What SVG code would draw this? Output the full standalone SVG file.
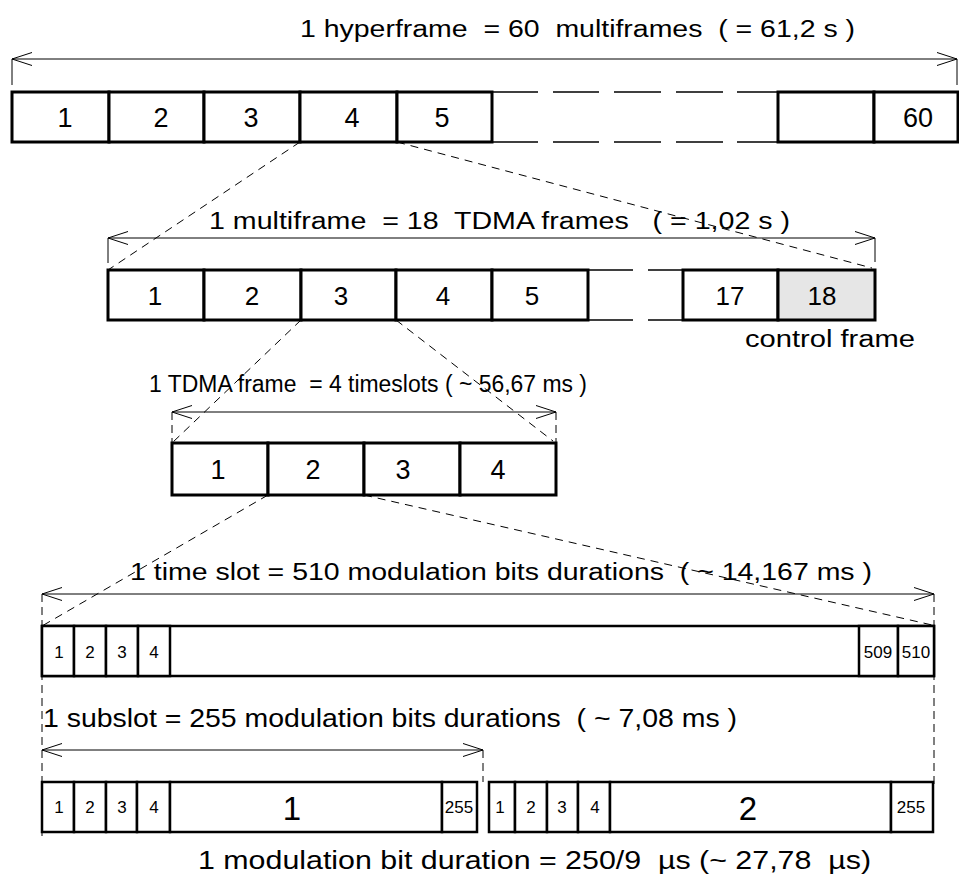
<svg xmlns="http://www.w3.org/2000/svg" width="959" height="884" viewBox="0 0 959 884">
<style>
text{font-family:"Liberation Sans",Arial,sans-serif;fill:#000;white-space:pre}
.t{font-size:23px}
.n{font-size:27px;text-anchor:middle}
.m{font-size:26px;text-anchor:middle}
.s{font-size:17px;text-anchor:middle}
.b{font-size:33px;text-anchor:middle}
.cell{fill:#fff;stroke:#000;stroke-width:3}
.sc{fill:#fff;stroke:#000;stroke-width:2.5}
.gap{stroke:#000;stroke-width:1.5;fill:none}
.dim{stroke:#000;stroke-width:1;fill:none}
.dash{stroke:#000;stroke-width:1;fill:none;stroke-dasharray:8 6}
.vd{stroke:#000;stroke-width:1;fill:none;stroke-dasharray:8 5}
</style>
<defs>
<marker id="ah" viewBox="-21 -8 22 16" refX="0" refY="0" markerWidth="22" markerHeight="16" markerUnits="userSpaceOnUse" orient="auto-start-reverse">
<path d="M-20,-6.5 L0,0 L-20,6.5" fill="none" stroke="#000" stroke-width="1"/>
</marker>
</defs>
<rect width="959" height="884" fill="#fff"/>

<g id="hyperframe">
<rect class="cell" x="12" y="92" width="97" height="50"/>
<rect class="cell" x="109" y="92" width="95" height="50"/>
<rect class="cell" x="204" y="92" width="96" height="50"/>
<rect class="cell" x="300" y="92" width="97" height="50"/>
<rect class="cell" x="397" y="92" width="95" height="50"/>
<path class="gap" d="M492,92H538M553,92H599M614,92H661M676,92H723M737,92H778M492,142H538M553,142H599M614,142H661M676,142H723M737,142H778"/>
<rect class="cell" x="778" y="92" width="96" height="50"/>
<rect class="cell" x="874" y="92" width="84" height="50"/>
<text class="n" x="65" y="127">1</text>
<text class="n" x="161" y="127">2</text>
<text class="n" x="251" y="127">3</text>
<text class="n" x="352" y="127">4</text>
<text class="n" x="442" y="127">5</text>
<text class="n" x="918" y="127">60</text>
</g>

<g id="multiframe">
<rect class="cell" x="108" y="270" width="96" height="50"/>
<rect class="cell" x="204" y="270" width="97" height="50"/>
<rect class="cell" x="301" y="270" width="95" height="50"/>
<rect class="cell" x="396" y="270" width="96" height="50"/>
<rect class="cell" x="492" y="270" width="96" height="50"/>
<path class="gap" d="M588,270H633M648,270H683M588,320H633M648,320H683"/>
<rect class="cell" x="683" y="270" width="95" height="50"/>
<rect class="cell" x="778" y="270" width="97" height="50" style="fill:#e6e6e6"/>
<text class="m" x="155" y="305">1</text>
<text class="m" x="252" y="305">2</text>
<text class="m" x="341" y="305">3</text>
<text class="m" x="443" y="305">4</text>
<text class="m" x="532" y="305">5</text>
<text class="m" x="730" y="305">17</text>
<text class="m" x="822" y="305">18</text>
<text class="t" x="745" y="347" textLength="170" lengthAdjust="spacingAndGlyphs">control frame</text>
</g>

<g id="tdma-frame">
<rect class="cell" x="172" y="443" width="96" height="52"/>
<rect class="cell" x="268" y="443" width="96" height="52"/>
<rect class="cell" x="364" y="443" width="96" height="52"/>
<rect class="cell" x="460" y="443" width="96" height="52"/>
<text class="n" x="218" y="479">1</text>
<text class="n" x="313" y="479">2</text>
<text class="n" x="403" y="479">3</text>
<text class="n" x="498" y="479">4</text>
</g>

<g id="timeslot">
<rect class="sc" x="42" y="626" width="892" height="50"/>
<rect class="sc" x="42" y="626" width="32" height="50"/>
<rect class="sc" x="74" y="626" width="32" height="50"/>
<rect class="sc" x="106" y="626" width="32" height="50"/>
<rect class="sc" x="138" y="626" width="32" height="50"/>
<rect class="sc" x="859" y="626" width="39" height="50"/>
<rect class="sc" x="898" y="626" width="36" height="50"/>
<text class="s" x="59" y="658">1</text>
<text class="s" x="90" y="658">2</text>
<text class="s" x="122" y="658">3</text>
<text class="s" x="154" y="658">4</text>
<text class="s" x="878" y="658">509</text>
<text class="s" x="916" y="658">510</text>
</g>

<g id="subslot-1">
<rect class="sc" x="42" y="782" width="32" height="50"/>
<rect class="sc" x="74" y="782" width="32" height="50"/>
<rect class="sc" x="106" y="782" width="31" height="50"/>
<rect class="sc" x="137" y="782" width="33" height="50"/>
<rect class="sc" x="170" y="782" width="272" height="50"/>
<rect class="sc" x="442" y="782" width="35" height="50"/>
<text class="s" x="59" y="813">1</text>
<text class="s" x="90" y="813">2</text>
<text class="s" x="122" y="813">3</text>
<text class="s" x="154" y="813">4</text>
<text class="b" x="292" y="820">1</text>
<text class="s" x="459" y="813">255</text>
</g>

<g id="subslot-2">
<rect class="sc" x="489" y="782" width="26" height="50"/>
<rect class="sc" x="515" y="782" width="32" height="50"/>
<rect class="sc" x="547" y="782" width="31" height="50"/>
<rect class="sc" x="578" y="782" width="32" height="50"/>
<rect class="sc" x="610" y="782" width="281" height="50"/>
<rect class="sc" x="891" y="782" width="42" height="50"/>
<text class="s" x="500" y="813">1</text>
<text class="s" x="531" y="813">2</text>
<text class="s" x="562" y="813">3</text>
<text class="s" x="595" y="813">4</text>
<text class="b" x="748" y="820">2</text>
<text class="s" x="911" y="813">255</text>
</g>

<g id="labels">
<text class="t" x="300" y="37" textLength="555" lengthAdjust="spacingAndGlyphs">1 hyperframe  = 60  multiframes  ( = 61,2 s )</text>
<text class="t" x="209" y="229" textLength="581" lengthAdjust="spacingAndGlyphs">1 multiframe  = 18  TDMA frames   ( = 1,02 s )</text>
<text class="t" x="149" y="392" textLength="438" lengthAdjust="spacingAndGlyphs">1 TDMA frame  = 4 timeslots ( ~ 56,67 ms )</text>
<text class="t" x="130" y="580" textLength="742" lengthAdjust="spacingAndGlyphs">1 time slot = 510 modulation bits durations  ( ~ 14,167 ms )</text>
<text class="t" x="43" y="727" style="font-size:25px" textLength="694" lengthAdjust="spacingAndGlyphs">1 subslot = 255 modulation bits durations  ( ~ 7,08 ms )</text>
<text class="t" x="198" y="869" style="font-size:26px" textLength="673" lengthAdjust="spacingAndGlyphs">1 modulation bit duration = 250/9  µs (~ 27,78  µs)</text>
</g>

<g id="connectors">
<line class="dim" x1="12" y1="59" x2="957" y2="59" marker-start="url(#ah)" marker-end="url(#ah)"/>
<path class="dim" d="M12,59V85M957,59V85"/>
<line class="dim" x1="108" y1="238" x2="875" y2="238" marker-start="url(#ah)" marker-end="url(#ah)"/>
<path class="dim" d="M108,238V263M875,238V262"/>
<line class="dim" x1="172" y1="412" x2="556" y2="412" marker-start="url(#ah)" marker-end="url(#ah)"/>
<path class="vd" d="M172,412V443M556,412V443"/>
<line class="dim" x1="42" y1="594" x2="934" y2="594" marker-start="url(#ah)" marker-end="url(#ah)"/>
<path class="vd" d="M42,594V840M934,594V785"/>
<line class="dim" x1="42" y1="750" x2="483" y2="750" marker-start="url(#ah)" marker-end="url(#ah)"/>
<path class="vd" d="M483,750V782"/>
<path class="dash" d="M300,142L108,270M397,142L872,268"/>
<path class="dash" d="M301,320L172,443M396,320L553,441"/>
<path class="dash" d="M268,495L42,626M364,495L932,625"/>
</g>
</svg>
